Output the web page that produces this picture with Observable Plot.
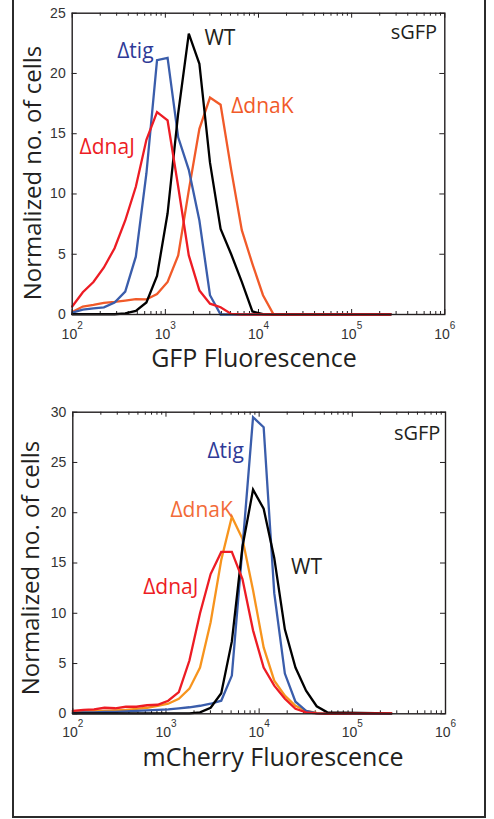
<!DOCTYPE html>
<html><head><meta charset="utf-8">
<script src="https://cdn.jsdelivr.net/npm/d3@7"></script>
<script src="https://cdn.jsdelivr.net/npm/@observablehq/plot@0.6"></script>
<style>
html,body{margin:0;padding:0;background:#fff;width:494px;height:819px;overflow:hidden;position:relative;}
#border{position:absolute;left:12px;top:-6px;width:474px;height:824px;box-sizing:border-box;border:2px solid #2b2b2b;}
.panel{position:absolute;left:0;}
.panel svg{overflow:visible;}
.ytitle{position:absolute;font-family:"Open Sans";font-size:24px;line-height:1;color:#231f20;white-space:nowrap;transform:translate(-50%,-50%) rotate(-90deg);}
.xtitle{position:absolute;font-family:"Open Sans";font-size:25px;line-height:1;color:#231f20;white-space:nowrap;transform:translateX(-50%);}
</style></head><body>
<div id="border"></div>
<div id="p1" class="panel" style="top:0px"></div>
<div id="p2" class="panel" style="top:398px"></div>
<div class="ytitle" style="left:32.4px;top:172.5px">Normalized no. of cells</div>
<div class="xtitle" style="left:254px;top:345px">GFP Fluorescence</div>
<div class="ytitle" style="left:29.5px;top:568.3px">Normalized no. of cells</div>
<div class="xtitle" style="left:273px;top:743.5px">mCherry Fluorescence</div>
<script>
// ---- data ----
const bins = [100,130,169,219,285,371,482,626,814,1057,1374,1785,2320,3015,3919,5093,6619,8601,11178,14527,18880,24536,31888,41443,53860,262144];

// GFP panel
const gfpTig  = [0.15,0.4,0.5,0.6,1.0, 1.9,4.8,11.7,21.1,21.3, 14.7,12.0,7.8,1.6,0, 0,0,0,0,0, 0,0,0,0,0, 0];
const gfpDnaJ = [0.66,1.85,2.7,3.9,5.5, 7.8,10.6,14.5,16.8,16.1, 10.6,4.9,2.0,0.9,0.6, 0.05,0,0,0,0, 0,0,0,0,0, 0];
const gfpWT   = [0.02,0.02,0.02,0.02,0.02, 0.1,0.3,1.0,3.2,8.4, 16.7,23.3,20.8,12.6,7.1, 5.0,2.7,0.25,0.03,0, 0,0,0,0,0, 0];
const gfpDnaK = [0.2,0.66,0.8,0.97,1.05, 1.16,1.27,1.25,1.7,2.7, 4.9,10.3,15.4,18.0,17.4, 12.0,7.0,4.2,1.6,0, 0,0,0,0,0, 0];

// mCherry panel
const mchTig  = [0.1,0.15,0.15,0.2,0.2, 0.25,0.3,0.35,0.4,0.45, 0.55,0.65,0.8,1.0,1.3, 3.8,16.5,29.5,28.5,12.0, 4.0,1.2,0.3,0.05,0, 0];
const mchDnaJ = [0.3,0.4,0.45,0.6,0.55, 0.7,0.7,0.85,0.9,1.3, 2.15,5.3,10.0,13.9,16.1, 16.1,13.4,8.3,4.6,2.8, 1.5,0.5,0.15,0.05,0, 0.05];
const mchDnaK = [0.2,0.25,0.3,0.3,0.35, 0.4,0.5,0.6,0.8,1.0, 1.5,2.5,4.6,9.1,15.3, 19.6,17.4,12.3,6.6,3.3, 1.8,0.8,0.3,0.1,0, 0];
const mchWT   = [0.05,0.05,0.05,0.05,0.05, 0.05,0.05,0.05,0.05,0.05, 0.05,0.05,0.15,0.6,2.05, 7.2,16.6,22.3,20.4,15.5, 8.4,4.6,2.3,0.75,0.15, 0.05];

// ticks
const xTicks = [1e2,1e3,1e4,1e5,1e6];
const xTickBase = ["10","10","10","10","10"];
const xTickExp = ["2","3","4","5","6"];
const xMinor = [200,300,400,500,600,700,800,900,2000,3000,4000,5000,6000,7000,8000,9000,
  20000,30000,40000,50000,60000,70000,80000,90000,200000,300000,400000,500000,600000,700000,800000,900000];
const gfpYTicks = [0,5,10,15,20,25];
const mchYTicks = [0,5,10,15,20,25,30];

// annotations
const gfpLabelText = ["\u0394tig","WT","\u0394dnaK","\u0394dnaJ","sGFP"];
const gfpLabelX = [304, 2630, 5093, 120, 828000];
const gfpLabelY = [21.3, 22.4, 16.7, 13.35, 22.9];
const mchLabelText = ["\u0394tig","\u0394dnaK","\u0394dnaJ","WT","sGFP"];
const mchLabelX = [2787, 1117, 569, 22000, 880000];
const mchLabelY = [25.4, 19.6, 11.94, 13.93, 27.2];

function panel(cfg) {
  const W = 494, H = 345;
  const fw = W - cfg.ml - cfg.mr, fh = H - cfg.mt - cfg.mb;
  const ink = "#231f20";
  const lines = cfg.series.map(s => Plot.line(s.v, {x: (d, i) => bins[i], y: d => d, stroke: s.c, strokeWidth: 2.3, strokeLinejoin: "miter", strokeMiterlimit: 4}));
  const labels = cfg.labelText.map((t, i) => Plot.text([t], {
    x: () => cfg.labelX[i], y: () => cfg.labelY[i], text: d => d,
    textAnchor: i === 4 ? "end" : "start", lineAnchor: "bottom",
    fill: cfg.labelColors[i], fontFamily: "Open Sans", fontSize: i === 4 ? 20 : 21
  }));
  return Plot.plot({
    width: W, height: H,
    marginLeft: cfg.ml, marginRight: cfg.mr, marginTop: cfg.mt, marginBottom: cfg.mb,
    style: {fontFamily: "'Liberation Sans', Arial, sans-serif", color: ink, background: "transparent", overflow: "visible"},
    x: {type: "log", domain: [1e2, 1e6], axis: null},
    y: {domain: [0, cfg.yMax]},
    marks: [
      Plot.ruleX(xMinor, {x: d => d, insetTop: fh - 3, stroke: ink, strokeWidth: 1}),
      Plot.ruleX(xMinor, {x: d => d, insetBottom: fh - 3, stroke: ink, strokeWidth: 1}),
      Plot.ruleX(xTicks, {x: d => d, insetTop: fh - 5, stroke: ink, strokeWidth: 1}),
      Plot.ruleX(xTicks, {x: d => d, insetBottom: fh - 5, stroke: ink, strokeWidth: 1}),
      Plot.ruleY(cfg.yTicks, {y: d => d, insetRight: fw - 5, stroke: ink, strokeWidth: 1}),
      Plot.ruleY(cfg.yTicks, {y: d => d, insetLeft: fw - 5, stroke: ink, strokeWidth: 1}),
      ...lines,
      Plot.frame({stroke: ink, strokeWidth: 1.4}),
      Plot.axisY({ticks: cfg.yTicks, tickSize: 0, tickPadding: 6.5, fontSize: 14, label: null, tickFormat: d => String(d), fill: "#333"}),
      Plot.text(xTicks, {x: d => d, frameAnchor: "bottom", text: (d, i) => xTickBase[i], textAnchor: "end", dx: 5, dy: cfg.tdy, lineAnchor: "bottom", fontSize: 14, fill: "#333"}),
      Plot.text(xTicks, {x: d => d, frameAnchor: "bottom", text: (d, i) => xTickExp[i], textAnchor: "start", dx: 5, dy: cfg.tdy - 9.8, lineAnchor: "bottom", fontSize: 10, fill: "#333"}),
      ...labels
    ]
  });
}

document.getElementById("p1").append(panel({
  ml: 71.7, mr: 49.7, mt: 12.7, mb: 31, yMax: 25, yTicks: gfpYTicks, tdy: 24,
  series: [
    {v: gfpDnaK, c: "#f15a29"},
    {v: gfpTig, c: "#3a5dab"},
    {v: gfpWT, c: "#000000"},
    {v: gfpDnaJ, c: "#ed1c24"}
  ],
  labelText: gfpLabelText, labelX: gfpLabelX, labelY: gfpLabelY,
  labelColors: ["#2e3a97", "#231f20", "#f15a29", "#ed1c24", "#231f20"]
}));

document.getElementById("p2").append(panel({
  ml: 72.3, mr: 49, mt: 13.7, mb: 29.7, yMax: 30, yTicks: mchYTicks, tdy: 23,
  series: [
    {v: mchDnaK, c: "#f7941d"},
    {v: mchTig, c: "#3a5dab"},
    {v: mchWT, c: "#000000"},
    {v: mchDnaJ, c: "#ed1c24"}
  ],
  labelText: mchLabelText, labelX: mchLabelX, labelY: mchLabelY,
  labelColors: ["#2e3a97", "#f26b38", "#ed1c24", "#231f20", "#231f20"]
}));
</script>
</body></html>
